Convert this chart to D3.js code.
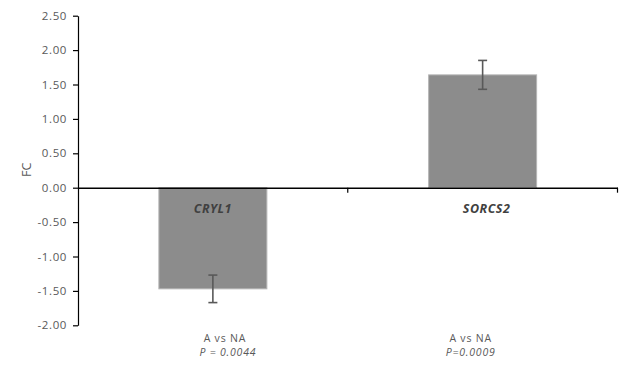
<!DOCTYPE html>
<html>
<head>
<meta charset="utf-8">
<script src="https://cdn.jsdelivr.net/npm/d3@7"></script>
<style>
  body { margin: 0; background: #fff; }
  svg { display: block; }
  text { font-family: "Open Sans", "Noto Sans", sans-serif; }
</style>
</head>
<body>
<svg id="chart" width="621" height="367"></svg>
<script>
// data
const genes = ["CRYL1", "SORCS2"];
const fcValues = [-1.47, 1.64];
const fcErrors = [0.20, 0.21];
const comparisons = ["A vs NA", "A vs NA"];
const pLabels = ["P = 0.0044", "P=0.0009"];
const yTicks = [2.5, 2.0, 1.5, 1.0, 0.5, 0.0, -0.5, -1.0, -1.5, -2.0];

const m = { top: 16, right: 4, bottom: 42, left: 78 };
const svg = d3.select("#chart");

const x = d3.scaleBand().domain(genes).range([m.left, 617.5]).padding(0);
const y = d3.scaleLinear().domain([-2, 2.5]).range([325.3, 15.7]);

const barW = 108;
const grey = "#595959";
const fmt = d => d3.format(".2f")(d).replace("\u2212", "-");

// y axis
const yAxis = svg.append("g")
  .attr("transform", `translate(${m.left},0)`)
  .call(d3.axisLeft(y).tickValues(yTicks).tickFormat(fmt).tickSize(5).tickSizeOuter(0));
yAxis.select(".domain").attr("stroke", "#000").attr("stroke-width", 1.2);
yAxis.selectAll(".tick line").attr("stroke", "#000").attr("stroke-width", 1.2);
yAxis.selectAll(".tick text")
  .attr("x", -11)
  .attr("fill", grey)
  .attr("font-size", 11.5)
  .attr("letter-spacing", 0.6)
  .attr("font-family", "'Open Sans', sans-serif");

svg.append("text")
  .attr("transform", `translate(27,${y(0.26)}) rotate(-90)`)
  .attr("text-anchor", "middle")
  .attr("dy", "0.35em")
  .attr("fill", grey)
  .attr("font-size", 12.5)
  .text("FC");

// bars
const bars = svg.append("g").selectAll("g").data(genes).join("g");

bars.append("rect")
  .attr("x", d => x(d) + x.bandwidth() / 2 - barW / 2)
  .attr("width", barW)
  .attr("y", (d, i) => y(Math.max(0, fcValues[i])))
  .attr("height", (d, i) => Math.abs(y(fcValues[i]) - y(0)))
  .attr("fill", "#8c8c8c")
  .attr("stroke", "#b5b5b5")
  .attr("stroke-width", 1);

// error bars
const cap = 4.5;
bars.each(function(d, i) {
  const g = d3.select(this);
  const cx = x(d) + x.bandwidth() / 2;
  const lo = y(fcValues[i] - fcErrors[i]);
  const hi = y(fcValues[i] + fcErrors[i]);
  g.append("line").attr("x1", cx).attr("x2", cx).attr("y1", lo).attr("y2", hi)
    .attr("stroke", grey).attr("stroke-width", 1.6);
  [lo, hi].forEach(v => {
    g.append("line").attr("x1", cx - cap).attr("x2", cx + cap).attr("y1", v).attr("y2", v)
      .attr("stroke", grey).attr("stroke-width", 1.6);
  });
});

// zero line with category ticks
const zeroAxis = svg.append("g")
  .attr("transform", `translate(0,${y(0)})`)
  .call(d3.axisBottom(x).tickValues([]).tickSizeOuter(0));
zeroAxis.select(".domain").attr("stroke", "#000").attr("stroke-width", 1.4);
[x.range()[0] + x.bandwidth(), x.range()[1]].forEach(px => {
  zeroAxis.append("line").attr("x1", px).attr("x2", px).attr("y1", 0).attr("y2", 5)
    .attr("stroke", "#000").attr("stroke-width", 1.2);
});

// gene labels inside bars
bars.append("text")
  .attr("x", (d, i) => x(d) + x.bandwidth() / 2 + (i === 1 ? 4 : 0))
  .attr("y", y(0) + 21)
  .attr("dy", "0.35em")
  .attr("text-anchor", "middle")
  .attr("font-size", 12.5)
  .attr("letter-spacing", 0.5)
  .attr("font-weight", "bold")
  .attr("font-style", "italic")
  .attr("fill", "#404040")
  .text(d => d);

// comparison + p-value labels below
const labOffset = [12, -12];
const lab = bars.append("text")
  .attr("text-anchor", "middle")
  .attr("font-size", 10.5)
  .attr("letter-spacing", 0.8)
  .attr("fill", grey);
lab.append("tspan")
  .attr("x", (d, i) => x(d) + x.bandwidth() / 2 + labOffset[i])
  .attr("y", 341.5)
  .text((d, i) => comparisons[i]);
lab.append("tspan")
  .attr("x", (d, i) => x(d) + x.bandwidth() / 2 + labOffset[i] + (i === 0 ? 3 : 0))
  .attr("y", 356)
  .attr("font-style", "italic")
  .text((d, i) => pLabels[i]);
</script>
</body>
</html>
